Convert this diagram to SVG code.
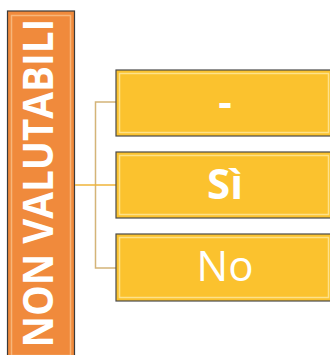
<svg xmlns="http://www.w3.org/2000/svg" width="330" height="355" viewBox="0 0 330 355">
<style>
.box{fill:#FBC22E;stroke:#4a4a4a;stroke-width:1.2}
.bev{fill:none;stroke:#FFE9A0;stroke-width:1.5;opacity:0.8}
.lbl{font-family:"Open Sans","Liberation Sans",sans-serif;font-size:42px;fill:#ffffff;text-anchor:middle}
.br{fill:none;stroke:#D4B478;stroke-width:1.5}
</style>
<rect width="330" height="355" fill="#ffffff"/>
<g id="root">
<rect x="7.5" y="11" width="67" height="350" fill="#F08A3C" stroke="#3a3a3a" stroke-width="1.2"/>
<rect x="11.5" y="15.5" width="59" height="340" fill="none" stroke="#F9C08A" stroke-width="1.5" opacity="0.8"/>
<text class="lbl" font-weight="bold" transform="translate(53,183) rotate(-90) scale(0.92,1)">NON VALUTABILI</text>
</g>
<g id="connectors">
<path class="br" d="M116,102 H95.5 V268 H116"/>
<path d="M75,185 H116" fill="none" stroke="#EFB53A" stroke-width="1.5"/>
</g>
<g id="node1">
<rect class="box" x="116" y="70" width="216" height="66"/>
<rect class="bev" x="119.5" y="73.5" width="209" height="59"/>
<text class="lbl" font-weight="bold" x="225" y="117">-</text>
</g>
<g id="node2">
<rect class="box" x="116" y="152" width="216" height="66"/>
<rect class="bev" x="119.5" y="155.5" width="209" height="59"/>
<text class="lbl" font-weight="bold" x="225" y="199">Sì</text>
</g>
<g id="node3">
<rect class="box" x="116" y="234" width="216" height="67"/>
<rect class="bev" x="119.5" y="237.5" width="209" height="60"/>
<text class="lbl" x="225" y="281">No</text>
</g>
</svg>
